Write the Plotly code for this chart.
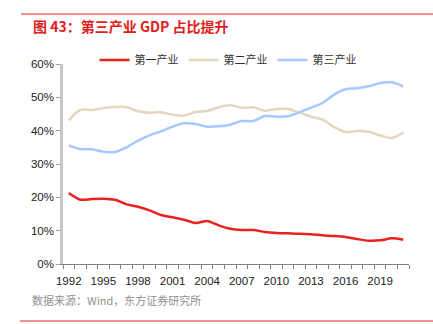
import plotly.graph_objects as go

years = list(range(1992, 2022))
primary = [21.3, 19.3, 19.5, 19.6, 19.3, 17.9, 17.2, 16.1, 14.7, 14.0, 13.3, 12.3, 12.9, 11.6, 10.6,
           10.2, 10.2, 9.6, 9.3, 9.2, 9.1, 8.9, 8.6, 8.4, 8.1, 7.5, 7.0, 7.1, 7.7, 7.3]
secondary = [43.1, 46.2, 46.2, 46.8, 47.1, 47.1, 45.8, 45.4, 45.5, 44.8, 44.5, 45.6, 45.9, 47.0, 47.6,
             46.9, 47.0, 46.0, 46.5, 46.5, 45.4, 44.2, 43.3, 41.1, 39.6, 39.9, 39.7, 38.6, 37.8, 39.4]
tertiary = [35.6, 34.5, 34.4, 33.7, 33.6, 35.0, 37.0, 38.6, 39.8, 41.2, 42.2, 42.0, 41.2, 41.3, 41.8,
            42.9, 42.9, 44.4, 44.2, 44.3, 45.5, 46.9, 48.3, 50.8, 52.4, 52.7, 53.3, 54.3, 54.5, 53.3]
series_names = ["第一产业", "第二产业", "第三产业"]
colors = ["#E8231E", "#E2D7BF", "#A6C8FF"]
tick_years = list(range(1992, 2020, 3))
y_ticks = [0, 10, 20, 30, 40, 50, 60]

FONT = "Liberation Sans, Arial, Noto Sans CJK SC, sans-serif"

fig = go.Figure()
for name, vals, c in zip(series_names, [primary, secondary, tertiary], colors):
    fig.add_trace(go.Scatter(
        x=years, y=[v / 100 for v in vals], name=name, mode="lines",
        line=dict(color=c, width=2.5, shape="spline", smoothing=0.8),
    ))

fig.update_layout(
    width=433, height=324,
    margin=dict(l=63, r=24, t=64, b=60),
    paper_bgcolor="white", plot_bgcolor="white",
    font=dict(family=FONT, size=11, color="#333333"),
    showlegend=True,
    legend=dict(orientation="h", x=0.477, xanchor="center", y=1.02, yanchor="middle",
                font=dict(size=11, color="#333333", family="Noto Sans CJK SC, sans-serif"),
                itemwidth=30, tracegroupgap=0, bgcolor="rgba(0,0,0,0)"),
    xaxis=dict(
        range=[1991.5, 2021.5], tickvals=tick_years, ticktext=[str(y) for y in tick_years],
        ticks="", showgrid=False, zeroline=False,
        showline=True, linecolor="#808080", linewidth=1,
        tickfont=dict(size=11.5, color="#222222"),
        ticklabelstandoff=6,
        minor=dict(tick0=1991.5, dtick=1, ticks="outside", ticklen=4, tickcolor="#808080", showgrid=False),
    ),
    yaxis=dict(
        range=[0, 0.6], tickvals=[v / 100 for v in y_ticks], ticktext=[f"{v}%" for v in y_ticks],
        showgrid=False, zeroline=False,
        showline=True, linecolor="#C8C8C8", linewidth=2.5,
        ticks="outside", ticklen=4, tickcolor="#A0A0A0",
        tickfont=dict(size=11.5, color="#222222"),
    ),
    shapes=[
        dict(type="line", xref="paper", yref="paper", x0=-0.1214, x1=1.07, y0=1.25, y1=1.25,
             line=dict(color="#EE6B6B", width=1.5)),
        dict(type="line", xref="paper", yref="paper", x0=-0.124, x1=1.07, y0=-0.285, y1=-0.285,
             line=dict(color="#EE6B6B", width=1.5)),
    ],
    annotations=[
        dict(text="<b>图 43：第三产业 GDP 占比提升</b>", xref="paper", yref="paper", x=-0.0925, y=1.19,
             xanchor="left", yanchor="middle", showarrow=False,
             font=dict(size=14, color="#E0201C", family="Noto Sans CJK SC, sans-serif")),
        dict(text="数据来源：Wind，东方证券研究所", xref="paper", yref="paper", x=-0.0954, y=-0.18,
             xanchor="left", yanchor="middle", showarrow=False,
             font=dict(size=11, color="#909090", family="Noto Sans CJK SC, sans-serif")),
    ],
)

fig.write_html("out.html")
